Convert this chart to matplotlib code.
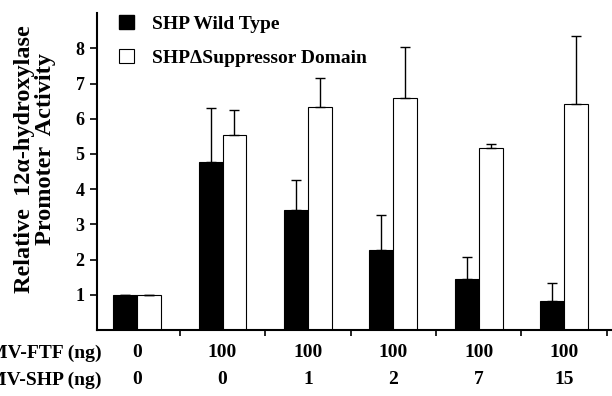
import matplotlib
matplotlib.use("Agg")
import matplotlib.pyplot as plt
from matplotlib.patches import Patch
import numpy as np

plt.rcParams['font.family'] = ['Liberation Serif', 'DejaVu Serif']
plt.rcParams['font.weight'] = 'bold'

ftf_labels = ['0', '100', '100', '100', '100', '100']
shp_labels = ['0', '0', '1', '2', '7', '15']
wild_type = [1.0, 4.77, 3.40, 2.27, 1.46, 0.82]
wild_err = [0.0, 1.53, 0.85, 0.99, 0.61, 0.51]
delta_sd = [1.0, 5.55, 6.33, 6.60, 5.16, 6.43]
delta_err = [0.0, 0.71, 0.84, 1.44, 0.12, 1.92]

fig = plt.figure(figsize=(6.12, 3.96), dpi=100)
ax = fig.add_axes([0.1585, 0.1667, 0.84, 0.80])

x = np.arange(len(wild_type))
w = 0.28
ax.bar(x - w/2, wild_type, w, color='black', edgecolor='black', linewidth=0.8,
       yerr=[np.zeros(len(x)), wild_err], error_kw=dict(ecolor='black', elinewidth=1.0, capsize=3.5, capthick=1.0))
ax.bar(x + w/2, delta_sd, w, color='white', edgecolor='black', linewidth=0.8,
       yerr=[np.zeros(len(x)), delta_err], error_kw=dict(ecolor='black', elinewidth=1.0, capsize=3.5, capthick=1.0))

ax.set_xlim(-0.47, 5.55)
ax.set_ylim(0, 9.0)
ax.set_yticks(range(1, 9))
ax.set_yticklabels([str(i) for i in range(1, 9)], fontsize=13, fontweight='bold')
ax.set_xticks(np.arange(0.5, 6, 1))
ax.set_xticklabels([])
ax.tick_params(axis='y', direction='out', length=5, width=1.2, pad=4)
ax.tick_params(axis='x', direction='out', length=4, width=1.2)
for s in ['top', 'right']:
    ax.spines[s].set_visible(False)
for s in ['left', 'bottom']:
    ax.spines[s].set_linewidth(1.5)

fig.text(25/612, 1 - 159/396, 'Relative  12\u03b1-hydroxylase', rotation=90, ha='center', va='center',
         fontsize=17.5, fontweight='bold')
fig.text(46/612, 1 - 149/396, 'Promoter  Activity', rotation=90, ha='center', va='center',
         fontsize=17.5, fontweight='bold')

trans = ax.get_xaxis_transform()
for i in range(len(x)):
    ax.text(x[i], -(353 - 330) / 317, ftf_labels[i], transform=trans, ha='center', va='center', fontsize=14, fontweight='bold')
    ax.text(x[i], -(380 - 330) / 317, shp_labels[i], transform=trans, ha='center', va='center', fontsize=14, fontweight='bold')
fig.text(102/612, 1 - 353/396, 'CMV-FTF (ng)', ha='right', va='center', fontsize=14, fontweight='bold')
fig.text(102/612, 1 - 380/396, 'CMV-SHP (ng)', ha='right', va='center', fontsize=14, fontweight='bold')

handles = [Patch(facecolor='black', edgecolor='black'), Patch(facecolor='white', edgecolor='black', linewidth=0.8)]
ax.legend(handles, ['SHP Wild Type', 'SHP\u0394Suppressor Domain'], loc='upper left',
          bbox_to_anchor=(0.009, 1.05), frameon=False, handlelength=0.75, handleheight=0.75,
          labelspacing=0.82, handletextpad=0.93, prop=dict(weight='bold', size=14))

fig.savefig('out.png', dpi=100)
